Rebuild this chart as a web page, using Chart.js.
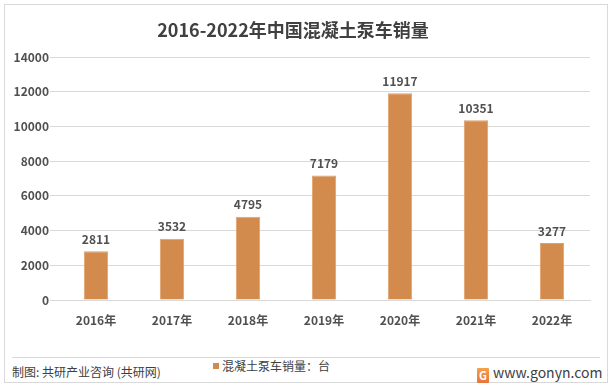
<!DOCTYPE html>
<html>
<head>
<meta charset="utf-8">
<script src="https://cdn.jsdelivr.net/npm/chart.js@4.4.0/dist/chart.umd.min.js"></script>
<style>
  body { margin: 0; background: #fff; font-family: "Noto Sans CJK SC", "Noto Sans", sans-serif; }
  #wrap { position: relative; width: 613px; height: 388px; overflow: hidden; }
  #frame { position: absolute; left: 4px; top: 4px; width: 604px; height: 379px; border: 1px solid #d9d9d9; box-sizing: border-box; }
  #chartBox { position: absolute; left: 0; top: 0; width: 613px; height: 345px; }
  #title { position: absolute; left: 0; width: 586px; top: 16px; text-align: center; font-size: 18px; font-weight: bold; color: #404040; }
  #sep { position: absolute; left: 12px; top: 357px; width: 588px; height: 1px; background: #d9d9d9; }
  #legend { position: absolute; left: 213px; top: 357px; font-size: 12px; color: #404040; }
  #legend i { display: inline-block; width: 6px; height: 6px; background: #d38b4d; margin-right: 3px; vertical-align: 2px; }
  #source { position: absolute; left: 12px; top: 363px; font-size: 12px; color: #404040; }
  #site { position: absolute; left: 477px; top: 362px; font-size: 14px; color: #404040; }
  #site b { display: inline-block; width: 12px; height: 15px; background: linear-gradient(#f6a04a, #e8743a); color: #fff; font-size: 11px; line-height: 15px; text-align: center; margin-right: 4px; vertical-align: -2px; border-radius: 1px; }
</style>
</head>
<body>
<div id="wrap">
  <div id="frame"></div>
  <div id="chartBox"><canvas id="myChart"></canvas></div>
  <div id="title">2016-2022年中国混凝土泵车销量</div>
  <div id="sep"></div>
  <div id="legend"><i></i>混凝土泵车销量：台</div>
  <div id="source">制图: 共研产业咨询 (共研网)</div>
  <div id="site"><b>G</b>www.gonyn.com</div>
</div>
<script>
(function () {
  'use strict'

  var years = ['2016年', '2017年', '2018年', '2019年', '2020年', '2021年', '2022年']
  var sales = [2811, 3532, 4795, 7179, 11917, 10351, 3277]
  var yTicks = [0, 2000, 4000, 6000, 8000, 10000, 12000, 14000]

  var tickFont = { family: '"Noto Sans CJK SC", sans-serif', size: 12, weight: 'bold' }

  // numbers over the bars
  var barLabels = {
    id: 'barLabels',
    afterDatasetsDraw: function (chart) {
      var c = chart.ctx
      c.save()
      c.font = 'bold 12px "Noto Sans CJK SC", sans-serif'
      c.fillStyle = '#505050'
      c.textAlign = 'center'
      c.textBaseline = 'bottom'
      chart.getDatasetMeta(0).data.forEach(function (bar, i) {
        c.fillText(sales[i], bar.x, bar.y - 6)
      })
      c.restore()
    }
  }

  var ctx = document.getElementById('myChart')
  new Chart(ctx, {
    type: 'bar',
    data: {
      labels: years,
      datasets: [{
        label: '混凝土泵车销量：台',
        data: sales,
        backgroundColor: '#d38b4d',
        borderColor: '#e0a06a',
        borderWidth: 1,
        categoryPercentage: 1,
        barPercentage: 0.32
      }]
    },
    options: {
      responsive: true,
      maintainAspectRatio: false,
      animation: false,
      layout: { padding: { left: 8, right: 23, top: 57, bottom: 0 } },
      plugins: { legend: { display: false }, title: { display: false }, tooltip: { enabled: false } },
      scales: {
        x: {
          grid: { display: false },
          border: { color: '#d9d9d9' },
          ticks: { color: '#505050', font: tickFont, padding: 5 },
          afterFit: function (s) { s.height = 45 }
        },
        y: {
          min: 0,
          max: 14000,
          afterBuildTicks: function (s) { s.ticks = yTicks.map(function (v) { return { value: v } }) },
          grid: { color: '#d9d9d9' },
          border: { display: false },
          ticks: { color: '#505050', font: tickFont, padding: 1, callback: function (v) { return String(v) } },
          afterFit: function (s) { s.width = 50 }
        }
      }
    },
    plugins: [barLabels]
  })
})()
</script>
</body>
</html>
